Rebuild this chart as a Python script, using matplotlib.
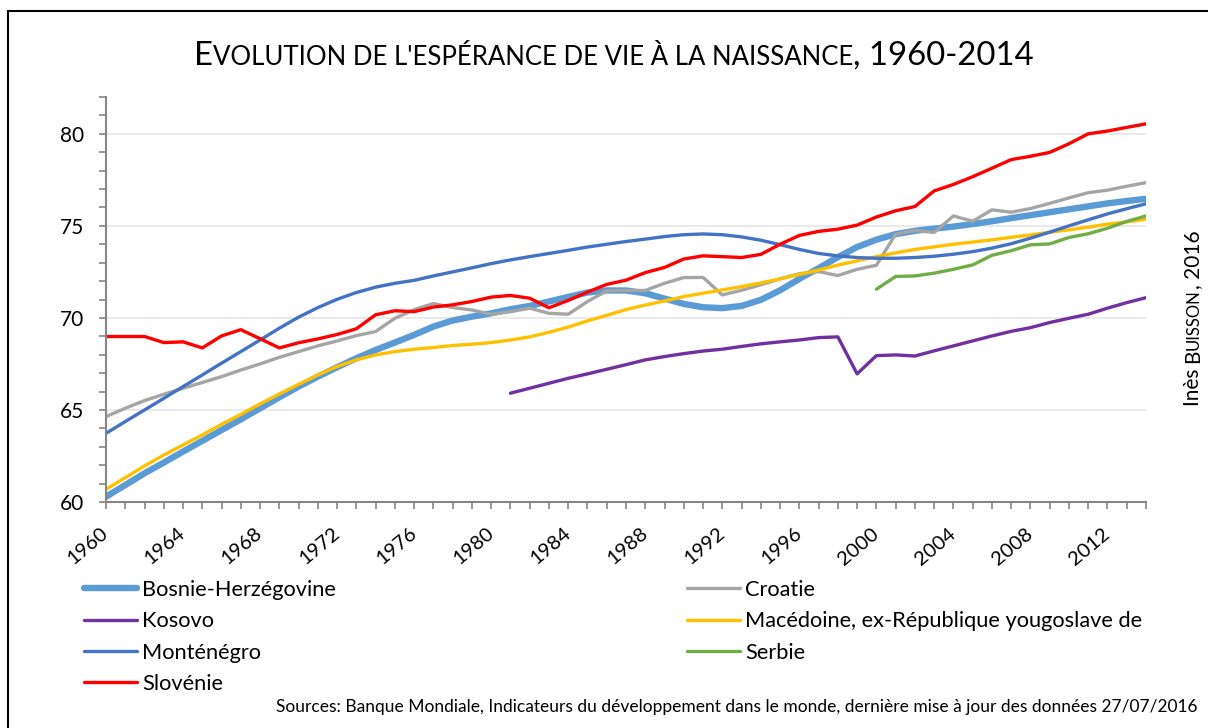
import numpy as np
import matplotlib
matplotlib.use("Agg")
import matplotlib.pyplot as plt
from matplotlib.ticker import MultipleLocator, FixedLocator
from matplotlib.lines import Line2D

plt.rcParams['font.family'] = ['Lato', 'DejaVu Sans']

years = list(range(1960, 2015))
nan = np.nan

bosnie = [60.29, 60.92, 61.56, 62.14, 62.74, 63.32, 63.91, 64.49, 65.09, 65.69,
          66.27, 66.81, 67.32, 67.81, 68.26, 68.66, 69.08, 69.53, 69.86, 70.07,
          70.25, 70.47, 70.65, 70.89, 71.14, 71.38, 71.49, 71.49, 71.34, 71.05,
          70.76, 70.58, 70.53, 70.65, 70.98, 71.5, 72.12, 72.7, 73.3, 73.85,
          74.25, 74.55, 74.73, 74.85, 74.96, 75.1, 75.25, 75.42, 75.58, 75.74,
          75.9, 76.06, 76.22, 76.35, 76.47]
croatie = [64.64, 65.09, 65.51, 65.85, 66.18, 66.49, 66.81, 67.17, 67.5, 67.86,
           68.17, 68.48, 68.75, 69.04, 69.26, 69.98, 70.45, 70.78, 70.56, 70.43,
           70.2, 70.34, 70.53, 70.25, 70.2, 70.89, 71.47, 71.49, 71.49, 71.88,
           72.19, 72.2, 71.25, 71.5, 71.8, 72.12, 72.4, 72.52, 72.3, 72.64,
           72.86, 74.55, 74.75, 74.64, 75.54, 75.25, 75.87, 75.74, 75.94, 76.22,
           76.52, 76.8, 76.94, 77.15, 77.35]
kosovo = [nan] * 21 + [65.91, 66.18, 66.45, 66.72, 66.96, 67.21, 67.46, 67.72, 67.9,
          68.06, 68.2, 68.3, 68.45, 68.59, 68.7, 68.8, 68.93, 68.97, 66.96,
          67.95, 67.99, 67.93, 68.21, 68.48, 68.75, 69.02, 69.27, 69.47, 69.75,
          69.98, 70.2, 70.53, 70.83, 71.1]
macedoine = [60.69, 61.32, 61.96, 62.55, 63.1, 63.64, 64.22, 64.76, 65.33, 65.87,
             66.39, 66.9, 67.36, 67.72, 67.99, 68.17, 68.3, 68.39, 68.5, 68.57,
             68.66, 68.8, 68.97, 69.22, 69.5, 69.84, 70.14, 70.45, 70.7, 70.92,
             71.16, 71.34, 71.52, 71.7, 71.9, 72.12, 72.36, 72.6, 72.87, 73.1,
             73.33, 73.53, 73.72, 73.86, 74.0, 74.12, 74.24, 74.38, 74.51, 74.65,
             74.78, 74.93, 75.09, 75.22, 75.36]
montenegro = [63.73, 64.37, 65.0, 65.63, 66.27, 66.9, 67.54, 68.17, 68.8, 69.44,
              70.04, 70.56, 71.01, 71.38, 71.67, 71.88, 72.04, 72.28, 72.5, 72.72,
              72.95, 73.15, 73.33, 73.5, 73.67, 73.85, 74.0, 74.15, 74.28, 74.42,
              74.52, 74.56, 74.52, 74.4, 74.22, 73.98, 73.72, 73.5, 73.37, 73.28,
              73.24, 73.24, 73.28, 73.35, 73.46, 73.6, 73.79, 74.03, 74.33, 74.66,
              75.0, 75.33, 75.65, 75.93, 76.2]
serbie = [nan] * 40 + [71.56, 72.25, 72.28, 72.43, 72.64, 72.88, 73.4, 73.65, 73.97, 74.02,
          74.37, 74.57, 74.87, 75.24, 75.54]
slovenie = [68.99, 68.99, 68.99, 68.66, 68.7, 68.37, 69.02, 69.36, 68.87, 68.37,
            68.65, 68.86, 69.1, 69.41, 70.17, 70.39, 70.34, 70.59, 70.71, 70.89,
            71.13, 71.22, 71.07, 70.55, 70.95, 71.4, 71.82, 72.05, 72.46, 72.74,
            73.2, 73.37, 73.33, 73.28, 73.45, 74.0, 74.48, 74.7, 74.82, 75.04,
            75.48, 75.82, 76.05, 76.9, 77.25, 77.67, 78.13, 78.6, 78.78, 78.99,
            79.46, 80.0, 80.15, 80.35, 80.54]

series = [
    ("Bosnie-Herzégovine", bosnie, "#5B9BD5", 4.6),
    ("Croatie", croatie, "#A5A5A5", 2.4),
    ("Kosovo", kosovo, "#7030A0", 2.4),
    ("Macédoine, ex-République yougoslave de", macedoine, "#FFC000", 2.4),
    ("Monténégro", montenegro, "#4472C4", 2.4),
    ("Serbie", serbie, "#70AD47", 2.4),
    ("Slovénie", slovenie, "#FF0000", 2.4),
]

title_pieces = [("E", 23.7), ("VOLUTION DE L'ESPÉRANCE DE VIE À LA NAISSANCE", 18.5), (", 1960-2014", 23.7)]
author_pieces = [("Inès ", 15), ("B", 15), ("UISSON", 12), (", 2016", 15)]
source_text = "Sources: Banque Mondiale, Indicateurs du développement dans le monde, dernière mise à jour des données 27/07/2016"

W, H = 1208, 728
fig = plt.figure(figsize=(W / 100, H / 100), dpi=100)
ax = fig.add_axes([106 / W, 1 - 502 / H, 1040 / W, (502 - 97) / H])

handles = {}
for name, vals, col, lw in series:
    ln, = ax.plot(years, vals, color=col, lw=lw, solid_capstyle='round', solid_joinstyle='round', label=name)
    handles[name] = ln

ax.set_xlim(1960, 2014)
ax.set_ylim(60, 82)
ax.yaxis.set_major_locator(FixedLocator([60, 65, 70, 75, 80]))
ax.yaxis.set_minor_locator(MultipleLocator(1))
ax.xaxis.set_major_locator(MultipleLocator(4))
ax.xaxis.set_minor_locator(MultipleLocator(1))
ax.grid(axis='y', which='major', color='#E6E6E6', lw=1.2)
ax.set_axisbelow(True)
for s in ['top', 'right']:
    ax.spines[s].set_visible(False)
for s in ['left', 'bottom']:
    ax.spines[s].set_color('#868686')
    ax.spines[s].set_linewidth(1.5)
ax.tick_params(which='both', direction='out', length=5, width=1.2, color='#868686')
ax.tick_params(axis='y', labelsize=15, pad=11, labelcolor='#000000')
ax.tick_params(axis='x', labelsize=14.5, pad=16, labelcolor='#000000')
for lbl in ax.get_xticklabels():
    lbl.set_rotation(40)
    lbl.set_ha('right')
    lbl.set_va('center')
    lbl.set_rotation_mode('anchor')

# Legends
col1 = ["Bosnie-Herzégovine", "Kosovo", "Monténégro", "Slovénie"]
col2 = ["Croatie", "Macédoine, ex-République yougoslave de", "Serbie"]
leg_kw = dict(frameon=False, fontsize=15.7, handlelength=2.45, handletextpad=0.22,
              labelspacing=0.52, borderpad=0, borderaxespad=0, loc='upper left')
leg1 = fig.legend([handles[n] for n in col1], col1, bbox_to_anchor=(84 / W, 1 - 580 / H), **leg_kw)
leg2 = fig.legend([handles[n] for n in col2], col2, bbox_to_anchor=(687 / W, 1 - 580 / H), **leg_kw)

# Source
fig.text(1198 / W, 1 - 712 / H, source_text, ha='right', va='baseline', fontsize=12.5)

# Frame border
fig.add_artist(Line2D([8 / W, 8 / W], [0, 1 - 11 / H], color='black', lw=1.5, transform=fig.transFigure))
fig.add_artist(Line2D([8 / W, 1], [1 - 11 / H, 1 - 11 / H], color='black', lw=1.5, transform=fig.transFigure))

# Small-caps helper
renderer = fig.canvas.get_renderer()

def piece_width(txt, size):
    t1 = fig.text(0, 0, txt + "|", fontsize=size)
    t2 = fig.text(0, 0, "|", fontsize=size)
    w = t1.get_window_extent(renderer).width - t2.get_window_extent(renderer).width
    t1.remove(); t2.remove()
    return w

def draw_pieces(pieces, cx, cy, rotation=0):
    widths = [piece_width(t, s) for t, s in pieces]
    total = sum(widths)
    pos = -total / 2
    for (t, s), w in zip(pieces, widths):
        if rotation == 0:
            x, y = cx + pos, cy
        else:
            x, y = cx, cy + pos
        fig.text(x / W, y / H, t, fontsize=s, rotation=rotation, rotation_mode='anchor',
                 ha='left', va='baseline')
        pos += w

draw_pieces(title_pieces, 614, H - 65)
draw_pieces(author_pieces, 1199, H - 318, rotation=90)

fig.savefig("out.png", dpi=100)
